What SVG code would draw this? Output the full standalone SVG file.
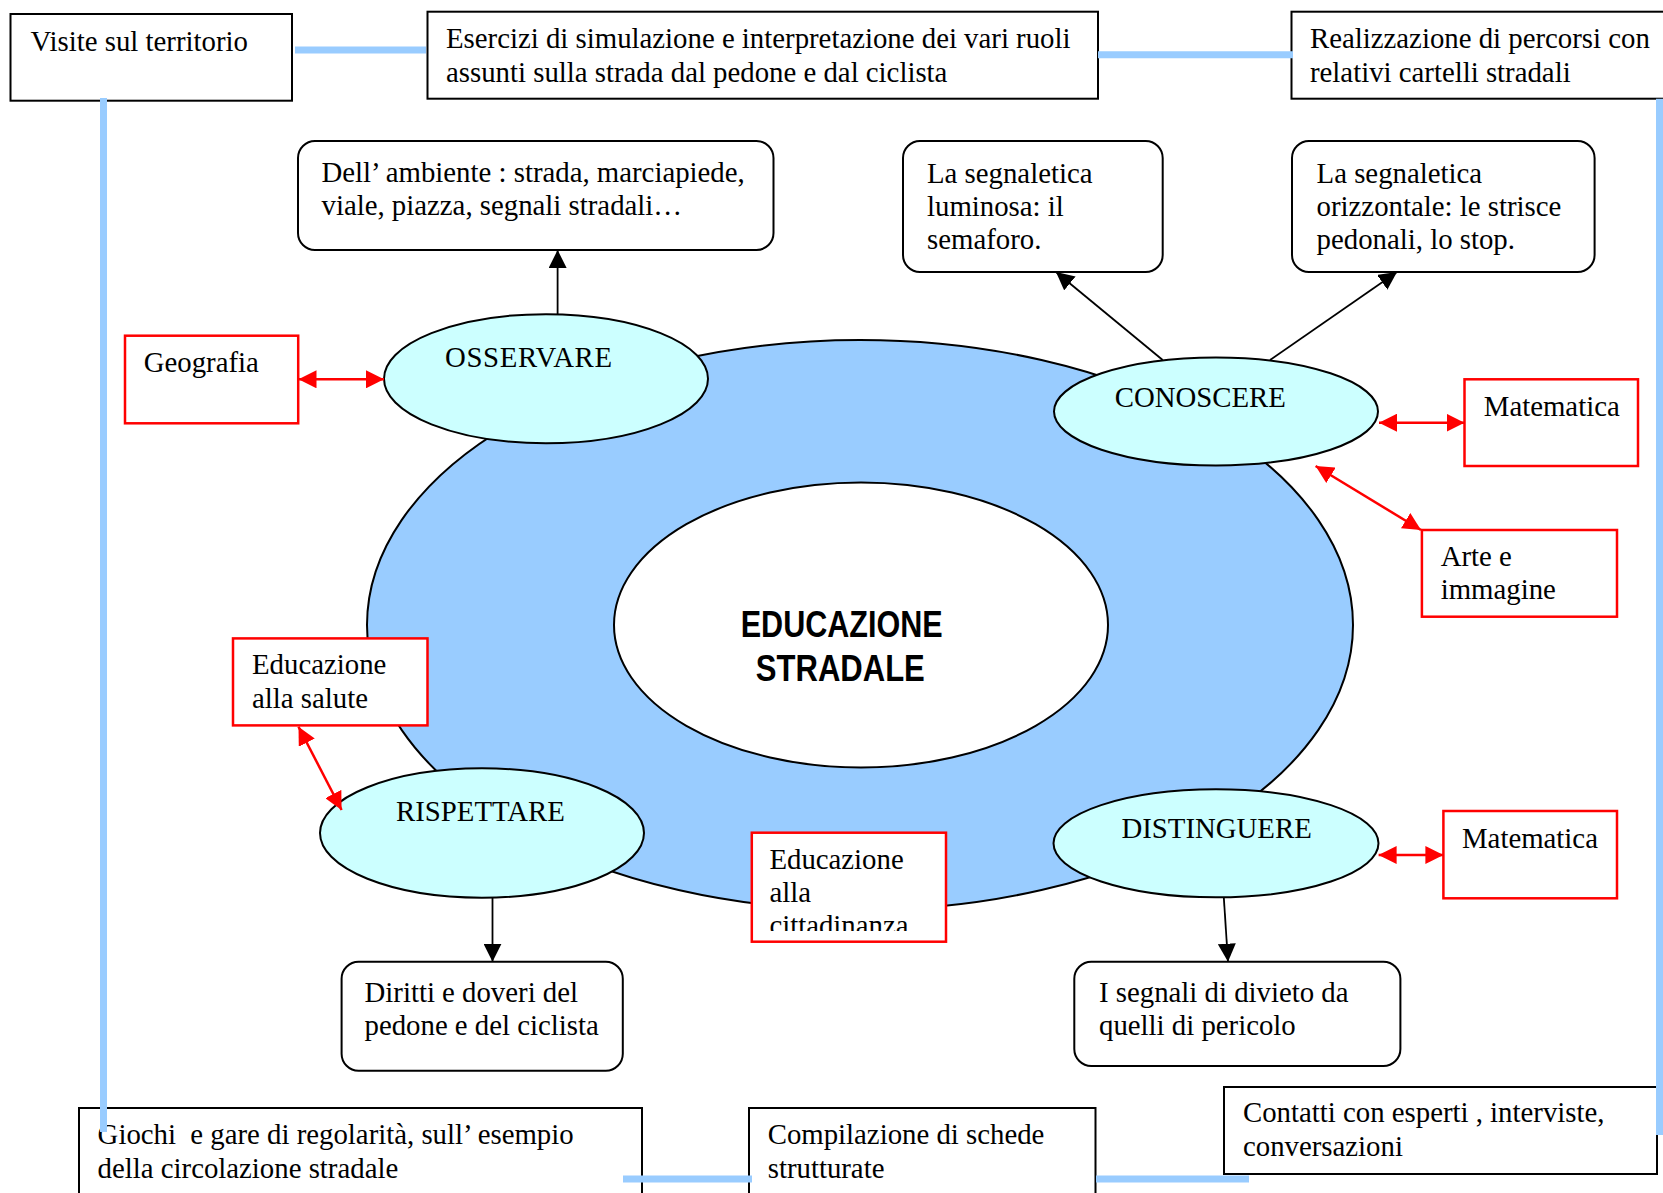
<svg xmlns="http://www.w3.org/2000/svg" width="1663" height="1193" viewBox="0 0 1663 1193">
  <style>
    .t { font-family: "Liberation Serif", "Times New Roman", serif; font-size: 28.8px; fill: #000; white-space: pre; }
    .title { font-family: "Liberation Sans", Arial, sans-serif; font-size: 36px; font-weight: bold; fill: #000; }
    .box { fill: #fff; stroke: #000; stroke-width: 2; }
    .rbox { fill: #fff; stroke: #ff0000; stroke-width: 2.5; }
    .act { fill: #ccffff; stroke: #000; stroke-width: 2; }
    .link { stroke: #99ccff; stroke-width: 7; fill: none; }
    .arr { stroke: #000; stroke-width: 1.8; fill: none; marker-end: url(#ah); }
    .rarr { stroke: #ff0000; stroke-width: 2.5; fill: none; marker-start: url(#rh); marker-end: url(#rh); }
  </style>
  <defs>
    <marker id="ah" markerUnits="userSpaceOnUse" markerWidth="18" markerHeight="18" refX="18" refY="9" orient="auto">
      <path d="M0,0 L18,9 L0,18 z" fill="#000"/>
    </marker>
    <marker id="rh" markerUnits="userSpaceOnUse" markerWidth="18" markerHeight="18" refX="18" refY="9" orient="auto-start-reverse">
      <path d="M0,0 L18,9 L0,18 z" fill="#ff0000"/>
    </marker>
    <clipPath id="clipCitt">
      <rect x="752" y="833" width="194" height="98"/>
    </clipPath>
  </defs>
  <rect width="1663" height="1193" fill="#fff"/>

  <!-- central ring -->
  <g id="ring">
    <ellipse cx="860" cy="625" rx="493" ry="285" fill="#99ccff" stroke="#000" stroke-width="2"/>
  </g>
  <g id="center">
    <ellipse cx="861" cy="625" rx="247" ry="142.5" fill="#fff" stroke="#000" stroke-width="2"/>
    <text class="title" x="841.7" y="636.7" text-anchor="middle" textLength="202" lengthAdjust="spacingAndGlyphs">EDUCAZIONE</text>
    <text class="title" x="840.3" y="680.7" text-anchor="middle" textLength="169" lengthAdjust="spacingAndGlyphs">STRADALE</text>
  </g>

  <!-- activity ellipses -->
  <g id="osservare">
    <ellipse class="act" cx="546" cy="378.7" rx="162" ry="64.5"/>
    <text class="t" x="445" y="366.7" textLength="167" lengthAdjust="spacing">OSSERVARE</text>
  </g>
  <g id="conoscere">
    <ellipse class="act" cx="1216" cy="411.5" rx="162" ry="54"/>
    <text class="t" x="1114.7" y="406.7">CONOSCERE</text>
  </g>
  <g id="rispettare">
    <ellipse class="act" cx="482" cy="833" rx="162" ry="64.7"/>
    <text class="t" x="396" y="820.7">RISPETTARE</text>
  </g>
  <g id="distinguere">
    <ellipse class="act" cx="1216" cy="843.3" rx="162.5" ry="54"/>
    <text class="t" x="1121.4" y="838.3">DISTINGUERE</text>
  </g>

  <!-- content boxes -->
  <g id="ambiente">
    <rect class="box" x="298" y="141" width="475.5" height="109" rx="17"/>
    <text class="t" x="321.5" y="182">Dell’ ambiente : strada, marciapiede,</text>
    <text class="t" x="321.5" y="215">viale, piazza, segnali stradali…</text>
  </g>
  <g id="luminosa">
    <rect class="box" x="903" y="141" width="259.7" height="131" rx="17"/>
    <text class="t" x="927" y="182.7">La segnaletica</text>
    <text class="t" x="927" y="215.5">luminosa: il</text>
    <text class="t" x="927" y="248.5">semaforo.</text>
  </g>
  <g id="orizzontale">
    <rect class="box" x="1292" y="141" width="302.6" height="131" rx="17"/>
    <text class="t" x="1316.6" y="182.7">La segnaletica</text>
    <text class="t" x="1316.6" y="215.5">orizzontale: le strisce</text>
    <text class="t" x="1316.6" y="248.5">pedonali, lo stop.</text>
  </g>
  <g id="diritti">
    <rect class="box" x="341.6" y="961.7" width="281.2" height="109" rx="17"/>
    <text class="t" x="364.5" y="1001.7">Diritti e doveri del</text>
    <text class="t" x="364.5" y="1035">pedone e del ciclista</text>
  </g>
  <g id="segnali">
    <rect class="box" x="1074.3" y="961.7" width="326.1" height="104.3" rx="17"/>
    <text class="t" x="1099" y="1001.7">I segnali di divieto da</text>
    <text class="t" x="1099" y="1035">quelli di pericolo</text>
  </g>

  <!-- method boxes -->
  <g id="visite">
    <rect class="box" x="10.5" y="14" width="281.5" height="86.7"/>
    <text class="t" x="30.5" y="50.5">Visite sul territorio</text>
  </g>
  <g id="esercizi">
    <rect class="box" x="427.5" y="11.7" width="670.5" height="87"/>
    <text class="t" x="446" y="48">Esercizi di simulazione e interpretazione dei vari ruoli</text>
    <text class="t" x="446" y="81.5">assunti sulla strada dal pedone e dal ciclista</text>
  </g>
  <g id="percorsi">
    <rect class="box" x="1291.5" y="11.7" width="400" height="87"/>
    <text class="t" x="1310" y="48">Realizzazione di percorsi con</text>
    <text class="t" x="1310" y="81.5">relativi cartelli stradali</text>
  </g>
  <g id="giochi">
    <rect class="box" x="79" y="1108" width="563" height="120"/>
    <text class="t" x="97.6" y="1143.5">Giochi  e gare di regolarità, sull’ esempio</text>
    <text class="t" x="97.6" y="1178">della circolazione stradale</text>
  </g>
  <g id="schede">
    <rect class="box" x="749" y="1108" width="346.5" height="120"/>
    <text class="t" x="767.7" y="1143.5">Compilazione di schede</text>
    <text class="t" x="767.7" y="1177.5">strutturate</text>
  </g>
  <g id="esperti">
    <rect class="box" x="1224" y="1087" width="433" height="87"/>
    <text class="t" x="1243" y="1122">Contatti con esperti , interviste,</text>
    <text class="t" x="1243" y="1155.5">conversazioni</text>
  </g>

  <!-- subject boxes -->
  <g id="geografia">
    <rect class="rbox" x="125" y="335.7" width="173.2" height="87.6"/>
    <text class="t" x="143.7" y="372">Geografia</text>
  </g>
  <g id="matematica-1">
    <rect class="rbox" x="1464.5" y="379.3" width="173.5" height="86.7"/>
    <text class="t" x="1483.8" y="415.5">Matematica</text>
  </g>
  <g id="arte">
    <rect class="rbox" x="1421.9" y="530" width="195.1" height="86.7"/>
    <text class="t" x="1440.7" y="565.5">Arte e</text>
    <text class="t" x="1440.7" y="599">immagine</text>
  </g>
  <g id="salute">
    <rect class="rbox" x="233" y="638.4" width="194.5" height="87"/>
    <text class="t" x="252" y="674">Educazione</text>
    <text class="t" x="252" y="707.5">alla salute</text>
  </g>
  <g id="cittadinanza">
    <rect class="rbox" x="751.8" y="832.7" width="194.2" height="109"/>
    <g clip-path="url(#clipCitt)">
      <text class="t" x="769.4" y="868.5">Educazione</text>
      <text class="t" x="769.4" y="901.5">alla</text>
      <text class="t" x="769.4" y="935">cittadinanza</text>
    </g>
  </g>
  <g id="matematica-2">
    <rect class="rbox" x="1443.4" y="811" width="173.6" height="87.3"/>
    <text class="t" x="1462" y="847.7">Matematica</text>
  </g>

  <!-- connectors -->
  <g id="connectors">
    <line class="arr" x1="557.6" y1="314.2" x2="557.6" y2="250"/>
    <line class="arr" x1="1162.7" y1="360" x2="1056" y2="272"/>
    <line class="arr" x1="1270" y1="360" x2="1397" y2="272"/>
    <line class="arr" x1="492.5" y1="897.7" x2="492.5" y2="961.7"/>
    <line class="arr" x1="1223.8" y1="897.3" x2="1228" y2="961.7"/>

    <line class="rarr" x1="298.5" y1="379.3" x2="384" y2="379.3"/>
    <line class="rarr" x1="1379" y1="422.7" x2="1464.5" y2="422.7"/>
    <line class="rarr" x1="1315.6" y1="466" x2="1421" y2="530"/>
    <line class="rarr" x1="298.5" y1="726.7" x2="341.6" y2="810"/>
    <line class="rarr" x1="1378.6" y1="855" x2="1443.4" y2="855"/>

    <line class="link" x1="295" y1="50" x2="426" y2="50"/>
    <line class="link" x1="1098" y1="54.7" x2="1293" y2="54.7"/>
    <line class="link" x1="103.5" y1="98" x2="103.5" y2="1132"/>
    <line class="link" x1="1659.5" y1="98.7" x2="1659.5" y2="1135"/>
    <line class="link" x1="623" y1="1179" x2="752" y2="1179"/>
    <line class="link" x1="1096" y1="1179" x2="1249" y2="1179"/>
  </g>
</svg>
